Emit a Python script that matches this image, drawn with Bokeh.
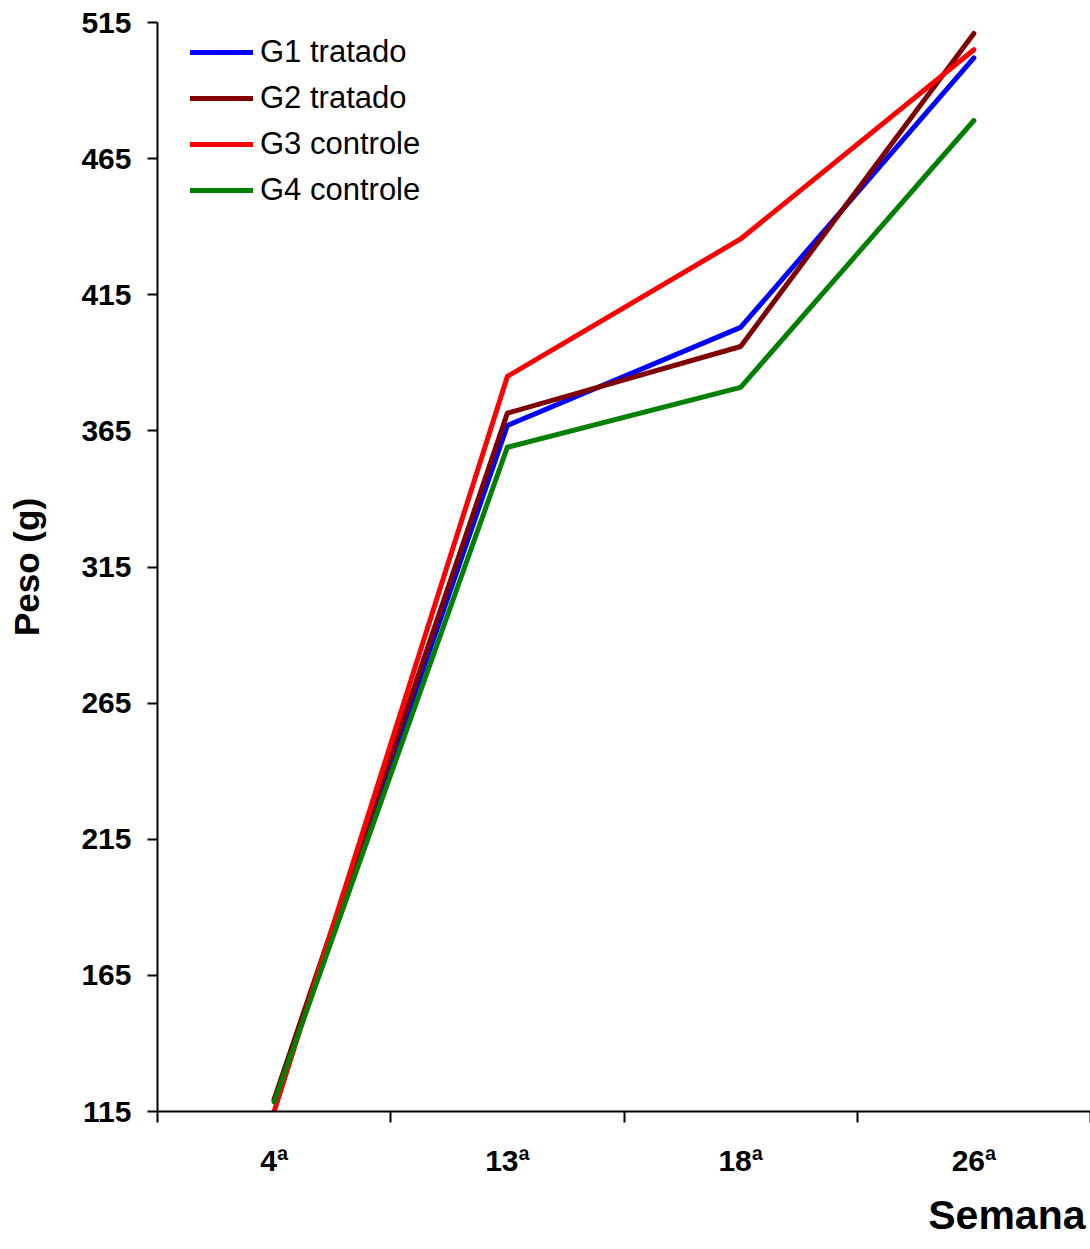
from bokeh.embed import file_html
from bokeh.models import FixedTicker, Legend, LegendItem, Range1d, Title
from bokeh.plotting import figure
from bokeh.resources import INLINE

# Body weight (g) of each group at the sampled weeks
weeks = ["4ª", "13ª", "18ª", "26ª"]
g1_tratado = [119, 367, 403, 502]
g2_tratado = [119.5, 371.5, 396, 511]
g3_controle = [115, 385, 435.5, 505]
g4_controle = [118.5, 359, 381, 479]

series = [
    ("G1 tratado", g1_tratado, "#0000FF"),
    ("G2 tratado", g2_tratado, "#800000"),
    ("G3 controle", g3_controle, "#FF0000"),
    ("G4 controle", g4_controle, "#008000"),
]
y_ticks = [115, 165, 215, 265, 315, 365, 415, 465, 515]

FONT = "Liberation Sans"

# each week occupies one unit-wide slot; points sit at the slot centres
x_centres = [i + 0.5 for i in range(len(weeks))]

p = figure(
    width=1090, height=1249,
    x_range=Range1d(0, len(weeks)), y_range=Range1d(115, 515),
    output_backend="svg", toolbar_location=None,
    min_border_left=157, min_border_right=0,
    min_border_top=22, min_border_bottom=138,
)
p.outline_line_color = None
p.xgrid.visible = False
p.ygrid.visible = False
p.background_fill_color = "white"
p.border_fill_color = "white"

# x axis: ticks on slot boundaries, labels on slot centres
xa = p.xaxis[0]
xa.ticker = FixedTicker(ticks=x_centres, minor_ticks=list(range(len(weeks) + 1)))
xa.major_label_overrides = {c: w for c, w in zip(x_centres, weeks)}
xa.major_tick_out = 0
xa.major_tick_in = 0
xa.minor_tick_out = 11
xa.minor_tick_in = 0
xa.minor_tick_line_width = 2
xa.minor_tick_line_color = "black"
xa.axis_line_width = 2
xa.axis_line_color = "black"
xa.major_label_text_font = FONT
xa.major_label_text_font_style = "bold"
xa.major_label_text_font_size = "30px"
xa.major_label_text_color = "black"
xa.major_label_standoff = 21

ya = p.yaxis[0]
ya.ticker = FixedTicker(ticks=y_ticks)
ya.minor_tick_line_color = None
ya.major_tick_out = 10
ya.major_tick_in = 0
ya.major_tick_line_width = 2
ya.major_tick_line_color = "black"
ya.axis_line_width = 2
ya.axis_line_color = "black"
ya.major_label_text_font = FONT
ya.major_label_text_font_style = "bold"
ya.major_label_text_font_size = "30px"
ya.major_label_text_color = "black"
ya.major_label_standoff = 16
ya.axis_label = "Peso (g)"
ya.axis_label_text_font = FONT
ya.axis_label_text_font_style = "bold"
ya.axis_label_text_font_size = "35px"
ya.axis_label_text_color = "black"
ya.axis_label_standoff = 32

items = []
for name, vals, color in series:
    r = p.line(x_centres, vals, line_color=color, line_width=5,
               line_cap="round", line_join="round")
    items.append(LegendItem(label=name, renderers=[r]))

legend = Legend(
    items=items, location=(33, 903),
    border_line_color=None, background_fill_alpha=0,
    padding=0, margin=0, spacing=10,
    glyph_width=63, glyph_height=36, label_height=36,
    label_standoff=7,
    label_text_font=FONT, label_text_font_size="31px",
    label_text_color="black",
)
p.add_layout(legend)

p.add_layout(Title(
    text="Semana", align="right", offset=5, standoff=21,
    text_font=FONT, text_font_style="bold", text_font_size="41px",
    text_color="black",
), "below")

open("out.html", "w").write(file_html(p, INLINE))
